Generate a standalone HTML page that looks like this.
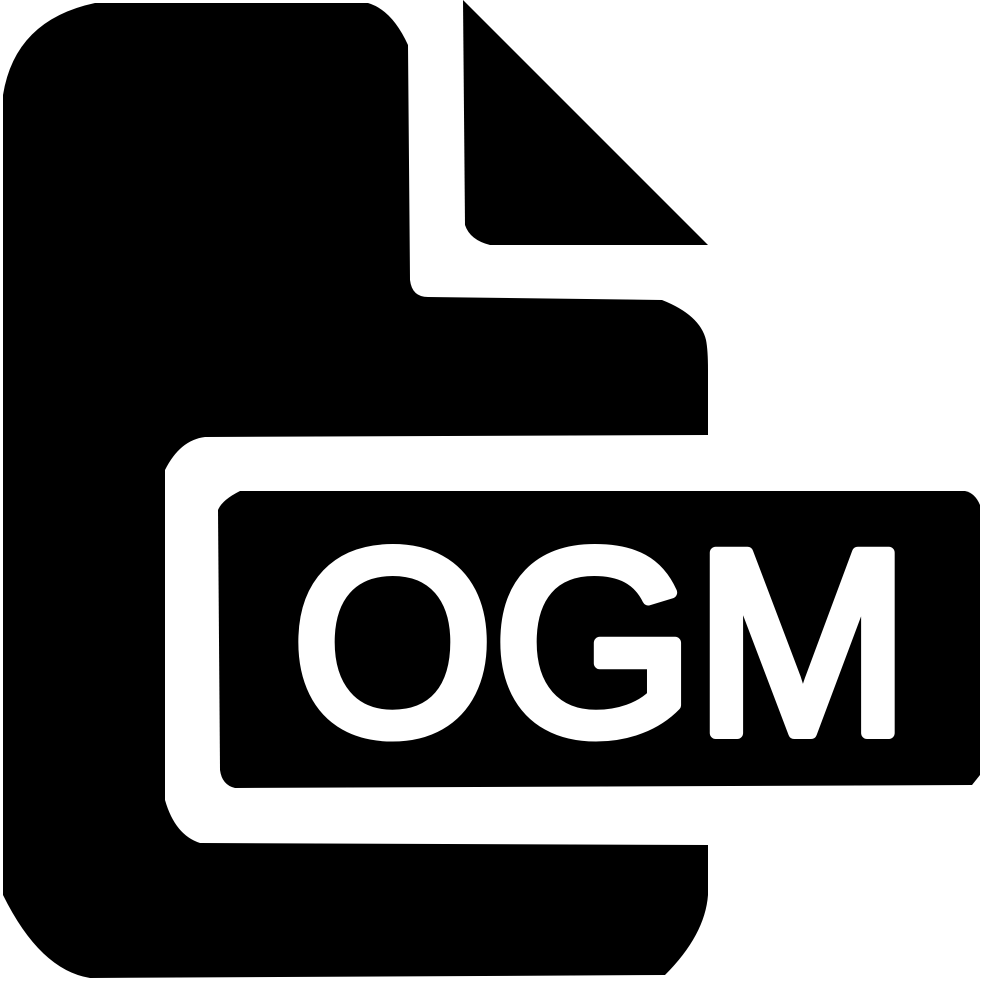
<!DOCTYPE html>
<html>
<head>
<meta charset="utf-8">
<style>
html,body{margin:0;padding:0;background:#fff;}
svg{display:block;}
</style>
</head>
<body>
<svg width="981" height="982" viewBox="0 0 981 982" xmlns="http://www.w3.org/2000/svg">
  <path fill="#000"
    d="M95,3 L368,3 Q392,10 408,45 L410,280 Q412,297 428,297 L662,300 Q700,315 706,340 Q708,350 708,370 L708,435 L205,437 Q180,440 165,470 L165,800 Q175,835 200,843 L708,845 L708,895 Q705,935 665,975 L90,978 Q40,970 3,895 L3,95 Q15,20 95,3 Z"/>
  <path fill="#000"
    d="M463,0 L708,245 L490,245 Q470,240 465,225 Z"/>
  <path fill="#000"
    d="M240,491 L965,491 Q975,493 980,505 L980,775 L972,785 L235,788 Q222,785 220,770 L218,510 Q222,500 240,491 Z"/>
  <text x="292" y="733" fill="#fff" stroke="#fff" stroke-width="12" stroke-linejoin="round"
    font-family="'Liberation Sans', Arial, sans-serif" font-weight="normal" font-size="262"
    textLength="618" lengthAdjust="spacingAndGlyphs">OGM</text>
</svg>
</body>
</html>
